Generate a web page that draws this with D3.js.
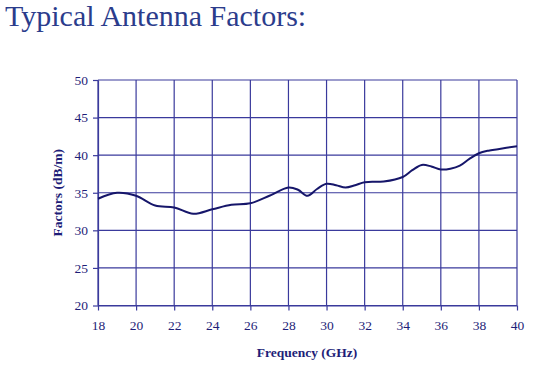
<!DOCTYPE html>
<html><head><meta charset="utf-8">
<script src="https://cdn.jsdelivr.net/npm/d3@7"></script>
<style>body{margin:0;background:#fff}svg{display:block}</style>
</head><body>
<svg id="c" width="538" height="365"></svg>
<script>
const freq =   [18,  19,  20,  21,  22,   23,  24,  25,  26,  27,  28,  28.5,29,  29.5,30,  30.5,31,  31.5,32,  33,  34,  34.5,35,  35.5,36,  36.5,37,  37.5,38,   38.5,39,  40];
const factor = [34.2,35.0,34.6,33.3,33.05,32.2,32.8,33.4,33.6,34.6,35.7,35.4,34.6,35.5,36.2,36.0,35.7,36.0,36.4,36.5,37.1,38.0,38.7,38.5,38.1,38.2,38.6,39.5,40.25,40.6,40.8,41.2];
const xTicks = [18,20,22,24,26,28,30,32,34,36,38,40];
const yTicks = [20,25,30,35,40,45,50];

const svg = d3.select("#c");
const L=98, R=517, T=80, B=305.5;
const x = d3.scaleLinear().domain([18,40]).range([L,R]);
const y = d3.scaleLinear().domain([20,50]).range([B,T]);
const grid = "#3a3a9c", txt = "#1e1e78", serif = "'Liberation Serif','Times New Roman',serif";

svg.append("text").attr("x",5).attr("y",26).attr("font-family",serif).attr("font-size",30)
  .attr("fill","#2b3c8c").text("Typical Antenna Factors:");

// grid
svg.append("g").selectAll("line").data(xTicks).join("line")
  .attr("x1",d=>x(d)).attr("x2",d=>x(d)).attr("y1",T).attr("y2",B)
  .attr("stroke",grid).attr("stroke-width",1.2);
svg.append("g").selectAll("line").data(yTicks).join("line")
  .attr("x1",L).attr("x2",R).attr("y1",d=>y(d)).attr("y2",d=>y(d))
  .attr("stroke",grid).attr("stroke-width",1.2);

// axes
const xa = svg.append("g").attr("transform",`translate(0,${B})`)
  .call(d3.axisBottom(x).tickValues(xTicks).tickSize(5).tickSizeOuter(0).tickPadding(10));
const ya = svg.append("g").attr("transform",`translate(${L},0)`)
  .call(d3.axisLeft(y).tickValues(yTicks).tickSize(5).tickSizeOuter(0).tickPadding(5));
[xa,ya].forEach(g=>{
  g.select(".domain").attr("stroke",grid).attr("stroke-width",1.2);
  g.selectAll(".tick line").attr("stroke",grid).attr("stroke-width",1.2);
  g.selectAll(".tick text").attr("font-family",serif).attr("font-size",13.5).attr("fill",txt);
});

svg.append("text").attr("x",307).attr("y",357).attr("text-anchor","middle")
  .attr("font-family",serif).attr("font-size",13.5).attr("font-weight","bold").attr("fill",txt)
  .text("Frequency (GHz)");
svg.append("text").attr("transform",`translate(62,${(T+B)/2}) rotate(-90)`).attr("text-anchor","middle")
  .attr("font-family",serif).attr("font-size",13.5).attr("font-weight","bold").attr("fill",txt)
  .text("Factors (dB/m)");

const line = d3.line().x((d,i)=>x(freq[i])).y(d=>y(d)).curve(d3.curveCatmullRom.alpha(0.5));
svg.append("path").datum(factor).attr("d",line).attr("fill","none")
  .attr("stroke","#16166a").attr("stroke-width",2);
</script>
</body></html>
